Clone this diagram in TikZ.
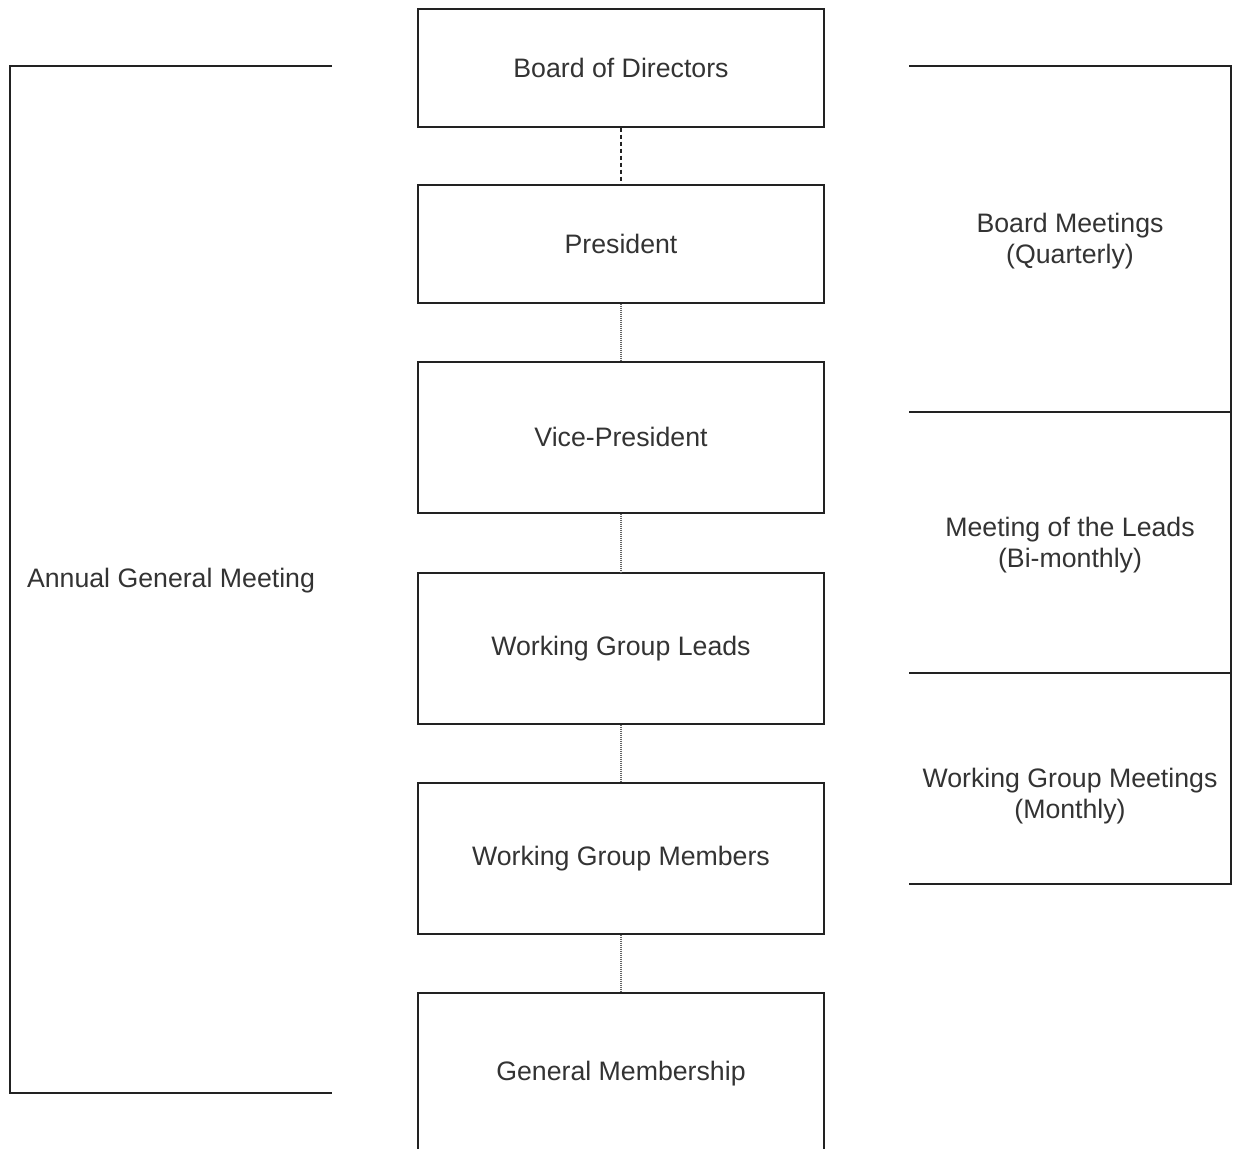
\documentclass[tikz,border=0pt]{standalone}
\usepackage{fontspec}
\setmainfont{Liberation Sans}
\definecolor{txt}{HTML}{333333}
\definecolor{ln}{HTML}{222222}
\begin{document}
\begin{tikzpicture}[x=1pt,y=-1pt,
  orgbox/.style={draw=ln,line width=1.6pt,minimum width=406pt,anchor=north,inner sep=0pt,
    font=\fontsize{26.7}{31}\selectfont,text=txt},
  lbl/.style={font=\fontsize{26.7}{31}\selectfont,text=txt,align=center,inner sep=0pt},
  frame/.style={draw=ln,line width=1.6pt},
  dashconn/.style={draw=ln,line width=1.3pt,dash pattern=on 4pt off 3pt},
  dotconn/.style={draw=ln!70,line width=1.2pt,dash pattern=on 1pt off 1pt}]
\useasboundingbox (0,0) rectangle (1233,1148);
\node[orgbox,minimum height=118pt] (b1) at (621,8) {Board of Directors};
\node[orgbox,minimum height=118pt] (b2) at (621,184) {President};
\node[orgbox,minimum height=151pt] (b3) at (621,361) {Vice-President};
\node[orgbox,minimum height=151pt] (b4) at (621,572) {Working Group Leads};
\node[orgbox,minimum height=151pt] (b5) at (621,782) {Working Group Members};
\node[orgbox,minimum height=162pt] (b6) at (621,992) {General Membership};
\draw[dashconn] (b1.south) -- (b2.north);
\draw[dotconn] (b2.south) -- (b3.north);
\draw[dotconn] (b3.south) -- (b4.north);
\draw[dotconn] (b4.south) -- (b5.north);
\draw[dotconn] (b5.south) -- (b6.north);
% left bracket
\coordinate (lt) at (332,66);
\coordinate (ltc) at (10,66);
\coordinate (lbc) at (10,1093);
\coordinate (lb) at (332,1093);
\draw[frame] (lt) -- (ltc) -- (lbc) -- (lb);
\node[lbl] (agm) at (171,581) {Annual General Meeting};
% right bracket
\coordinate (r1) at (909,66);
\coordinate (r1c) at (1231,66);
\coordinate (r4c) at (1231,884);
\coordinate (r4) at (909,884);
\coordinate (r2) at (909,412);
\coordinate (r2c) at (1231,412);
\coordinate (r3) at (909,673);
\coordinate (r3c) at (1231,673);
\draw[frame] (r1) -- (r1c) -- (r4c) -- (r4);
\draw[frame] (r2) -- (r2c);
\draw[frame] (r3) -- (r3c);
\node[lbl] (bm) at (1070,241) {Board Meetings\\(Quarterly)};
\node[lbl] (ml) at (1070,545) {Meeting of the Leads\\(Bi-monthly)};
\node[lbl] (wgm) at (1070,796) {Working Group Meetings\\(Monthly)};
\end{tikzpicture}
\end{document}
